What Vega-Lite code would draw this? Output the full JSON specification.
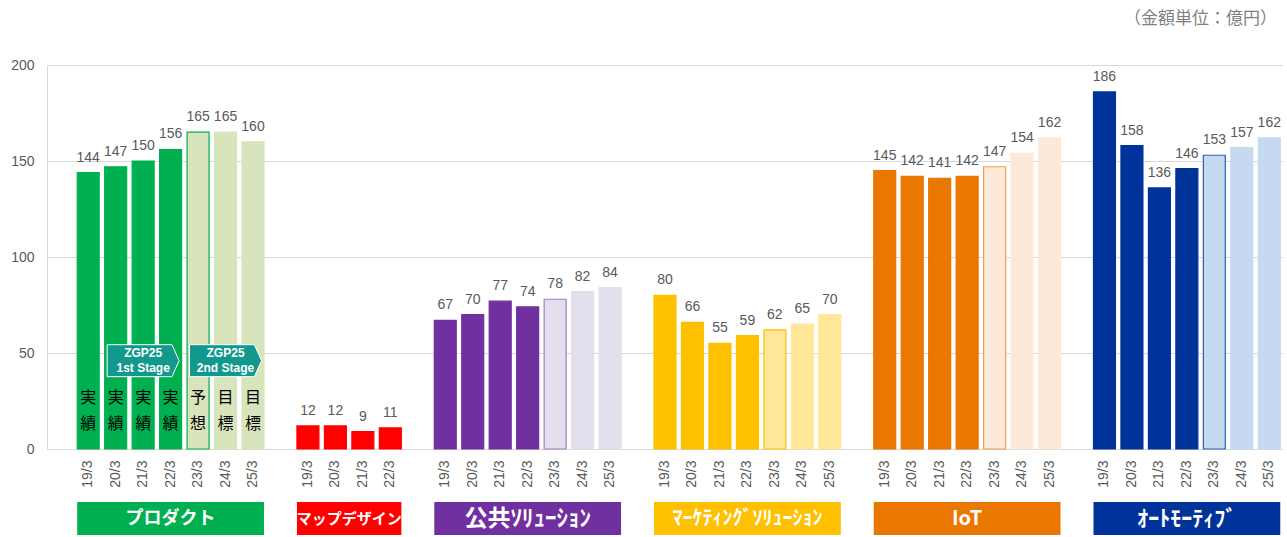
{
  "$schema": "https://vega.github.io/schema/vega-lite/v6.json",
  "background": "white",
  "padding": {"left": 10, "top": 10, "right": 0, "bottom": 0},
  "title": {"text": "（金額単位：億円）", "anchor": "end", "fontSize": 17, "font": "Noto Sans CJK JP", "fontWeight": "normal", "color": "#7F7F7F", "offset": 30, "dx": -6},
  "config": {"view": {"stroke": null}, "font": "Liberation Sans"},
  "spacing": 14,
  "resolve": {"scale": {"x": "shared", "fill": "independent", "size": "independent"}},
  "datasets": {
    "bars": [
      {"id": "P|19/3", "v": 144, "c": "P-a", "note": "実\n績"},
      {"id": "P|20/3", "v": 147, "c": "P-a", "note": "実\n績"},
      {"id": "P|21/3", "v": 150, "c": "P-a", "note": "実\n績"},
      {"id": "P|22/3", "v": 156, "c": "P-a", "note": "実\n績"},
      {"id": "P|23/3", "v": 165, "c": "P-f", "note": "予\n想"},
      {"id": "P|24/3", "v": 165, "c": "P-t", "note": "目\n標"},
      {"id": "P|25/3", "v": 160, "c": "P-t", "note": "目\n標"},
      {"id": "M|19/3", "v": 12, "c": "M-a"},
      {"id": "M|20/3", "v": 12, "c": "M-a"},
      {"id": "M|21/3", "v": 9, "c": "M-a"},
      {"id": "M|22/3", "v": 11, "c": "M-a"},
      {"id": "K|19/3", "v": 67, "c": "K-a"},
      {"id": "K|20/3", "v": 70, "c": "K-a"},
      {"id": "K|21/3", "v": 77, "c": "K-a"},
      {"id": "K|22/3", "v": 74, "c": "K-a"},
      {"id": "K|23/3", "v": 78, "c": "K-f"},
      {"id": "K|24/3", "v": 82, "c": "K-t"},
      {"id": "K|25/3", "v": 84, "c": "K-t"},
      {"id": "MK|19/3", "v": 80, "c": "MK-a"},
      {"id": "MK|20/3", "v": 66, "c": "MK-a"},
      {"id": "MK|21/3", "v": 55, "c": "MK-a"},
      {"id": "MK|22/3", "v": 59, "c": "MK-a"},
      {"id": "MK|23/3", "v": 62, "c": "MK-f"},
      {"id": "MK|24/3", "v": 65, "c": "MK-t"},
      {"id": "MK|25/3", "v": 70, "c": "MK-t"},
      {"id": "I|19/3", "v": 145, "c": "I-a"},
      {"id": "I|20/3", "v": 142, "c": "I-a"},
      {"id": "I|21/3", "v": 141, "c": "I-a"},
      {"id": "I|22/3", "v": 142, "c": "I-a"},
      {"id": "I|23/3", "v": 147, "c": "I-f"},
      {"id": "I|24/3", "v": 154, "c": "I-t"},
      {"id": "I|25/3", "v": 162, "c": "I-t"},
      {"id": "A|19/3", "v": 186, "c": "A-a"},
      {"id": "A|20/3", "v": 158, "c": "A-a"},
      {"id": "A|21/3", "v": 136, "c": "A-a"},
      {"id": "A|22/3", "v": 146, "c": "A-a"},
      {"id": "A|23/3", "v": 153, "c": "A-f"},
      {"id": "A|24/3", "v": 157, "c": "A-t"},
      {"id": "A|25/3", "v": 162, "c": "A-t"}
    ],
    "stages": [
      {"id": "P|21/3", "label": "ZGP25\n1st Stage"},
      {"id": "P|24/3", "label": "ZGP25\n2nd Stage"}
    ],
    "boxes": [
      {"seg": "P", "name": "プロダクト", "start": "P|19/3", "end": "P|25/3", "mid": "P|22/3"},
      {"seg": "M", "name": "マップデザイン", "start": "M|19/3", "end": "M|22/3", "mid": "M|20/3"},
      {"seg": "K", "name": "公共ｿﾘｭｰｼｮﾝ", "start": "K|19/3", "end": "K|25/3", "mid": "K|22/3"},
      {"seg": "MK", "name": "ﾏｰｹﾃｨﾝｸﾞｿﾘｭｰｼｮﾝ", "start": "MK|19/3", "end": "MK|25/3", "mid": "MK|22/3"},
      {"seg": "I", "name": "IoT", "start": "I|19/3", "end": "I|25/3", "mid": "I|22/3"},
      {"seg": "A", "name": "ｵｰﾄﾓｰﾃｨﾌﾞ", "start": "A|19/3", "end": "A|25/3", "mid": "A|22/3"}
    ]
  },
  "vconcat": [
    {
      "width": 1236,
      "height": 384,
      "layer": [
        {
          "data": {"name": "bars"},
          "mark": {"type": "bar", "strokeWidth": 1.2},
          "encoding": {
            "x": {
              "field": "id", "type": "nominal", "title": null,
              "scale": {"domain": ["s0","P|19/3","P|20/3","P|21/3","P|22/3","P|23/3","P|24/3","P|25/3","s1","M|19/3","M|20/3","M|21/3","M|22/3","s2","K|19/3","K|20/3","K|21/3","K|22/3","K|23/3","K|24/3","K|25/3","s3","MK|19/3","MK|20/3","MK|21/3","MK|22/3","MK|23/3","MK|24/3","MK|25/3","s4","I|19/3","I|20/3","I|21/3","I|22/3","I|23/3","I|24/3","I|25/3","s5","A|19/3","A|20/3","A|21/3","A|22/3","A|23/3","A|24/3","A|25/3"], "paddingInner": 0.2, "paddingOuter": 0.1},
              "axis": {"labelAngle": -90, "labelFontSize": 14, "labelColor": "#595959", "ticks": false, "domainColor": "#D9D9D9", "labelPadding": 11, "labelOverlap": false, "grid": false, "labelExpr": "indexof(datum.label, '|') >= 0 ? split(datum.label, '|')[1] : ''"}
            },
            "y": {
              "field": "v", "type": "quantitative", "title": null,
              "scale": {"domain": [0, 200]},
              "axis": {"values": [0, 50, 100, 150, 200], "labelFontSize": 14, "labelColor": "#595959", "ticks": false, "domainColor": "#D9D9D9", "gridColor": "#D9D9D9", "labelPadding": 13}
            },
            "fill": {
              "field": "c", "type": "nominal", "legend": null,
              "scale": {"domain": ["P-a","P-f","P-t","M-a","K-a","K-f","K-t","MK-a","MK-f","MK-t","I-a","I-f","I-t","A-a","A-f","A-t"],
                        "range": ["#00B050","#D8E4BC","#D8E4BC","#FF0000","#7030A0","#E4DFEC","#E4DFEC","#FFC000","#FFE699","#FFE699","#E97700","#FDE9D9","#FDE9D9","#003399","#C5D9F1","#C5D9F1"]}
            },
            "stroke": {
              "field": "c", "type": "nominal", "legend": null,
              "scale": {"domain": ["P-a","P-f","P-t","M-a","K-a","K-f","K-t","MK-a","MK-f","MK-t","I-a","I-f","I-t","A-a","A-f","A-t"],
                        "range": ["#00B050","#00B050","#D8E4BC","#FF0000","#7030A0","#A07CC5","#E4DFEC","#FFC000","#FFC000","#FFE699","#E97700","#F0A050","#FDE9D9","#003399","#2E5BB8","#C5D9F1"]}
            }
          }
        },
        {
          "data": {"name": "bars"},
          "mark": {"type": "text", "dy": -11, "baseline": "alphabetic", "fontSize": 14, "color": "#595959"},
          "encoding": {
            "x": {"field": "id", "type": "nominal"},
            "y": {"field": "v", "type": "quantitative"},
            "text": {"field": "v", "type": "quantitative"}
          }
        },
        {
          "data": {"name": "bars"},
          "transform": [{"filter": "isValid(datum.note)"}],
          "mark": {"type": "text", "lineBreak": "\n", "lineHeight": 26, "fontSize": 16, "font": "Noto Sans CJK JP", "color": "#000000", "baseline": "middle", "dy": -13},
          "encoding": {
            "x": {"field": "id", "type": "nominal"},
            "y": {"datum": 20},
            "text": {"field": "note", "type": "nominal"}
          }
        },
        {
          "data": {"name": "stages"},
          "mark": {"type": "point", "shape": "M-1,-0.444L0.8,-0.444L1,0L0.8,0.444L-1,0.444Z", "size": 5184, "filled": true, "color": "#10998C", "stroke": "#FFFFFF", "strokeWidth": 1, "opacity": 1},
          "encoding": {
            "x": {"field": "id", "type": "nominal"},
            "y": {"datum": 46}
          }
        },
        {
          "data": {"name": "stages"},
          "mark": {"type": "text", "lineBreak": "\n", "lineHeight": 15, "fontSize": 12, "fontWeight": "bold", "color": "#FFFFFF", "baseline": "middle", "dy": -7.5},
          "encoding": {
            "x": {"field": "id", "type": "nominal"},
            "y": {"datum": 46},
            "text": {"field": "label", "type": "nominal"}
          }
        }
      ]
    },
    {
      "width": 1236,
      "height": 33,
      "data": {"name": "boxes"},
      "layer": [
        {
          "mark": {"type": "rect"},
          "encoding": {
            "x": {"field": "start", "type": "nominal", "bandPosition": 0, "axis": null,
                  "scale": {"domain": ["s0","P|19/3","P|20/3","P|21/3","P|22/3","P|23/3","P|24/3","P|25/3","s1","M|19/3","M|20/3","M|21/3","M|22/3","s2","K|19/3","K|20/3","K|21/3","K|22/3","K|23/3","K|24/3","K|25/3","s3","MK|19/3","MK|20/3","MK|21/3","MK|22/3","MK|23/3","MK|24/3","MK|25/3","s4","I|19/3","I|20/3","I|21/3","I|22/3","I|23/3","I|24/3","I|25/3","s5","A|19/3","A|20/3","A|21/3","A|22/3","A|23/3","A|24/3","A|25/3"], "paddingInner": 0.2, "paddingOuter": 0.1}},
            "x2": {"field": "end", "bandPosition": 1},
            "fill": {"field": "seg", "type": "nominal", "legend": null,
                     "scale": {"domain": ["P","M","K","MK","I","A"], "range": ["#00B050","#FF0000","#7030A0","#FFC000","#E97700","#003399"]}}
          }
        },
        {
          "transform": [{"filter": "datum.seg !== 'M'"}],
          "mark": {"type": "text", "color": "#FFFFFF", "fontWeight": "bold", "font": "Noto Sans CJK JP", "baseline": "middle"},
          "encoding": {
            "x": {"field": "mid", "type": "nominal", "bandPosition": 0.5},
            "text": {"field": "name", "type": "nominal"},
            "size": {"field": "seg", "type": "nominal", "legend": null,
                     "scale": {"type": "ordinal", "domain": ["P","M","K","MK","I","A"], "range": [18,15,23,20,20,22]}}
          }
        },
        {
          "transform": [{"filter": "datum.seg === 'M'"}],
          "mark": {"type": "text", "color": "#FFFFFF", "fontWeight": "bold", "font": "Noto Sans CJK JP", "baseline": "middle", "fontSize": 15},
          "encoding": {
            "x": {"field": "mid", "type": "nominal", "bandPosition": 1.125},
            "text": {"field": "name", "type": "nominal"}
          }
        }
      ]
    }
  ]
}
